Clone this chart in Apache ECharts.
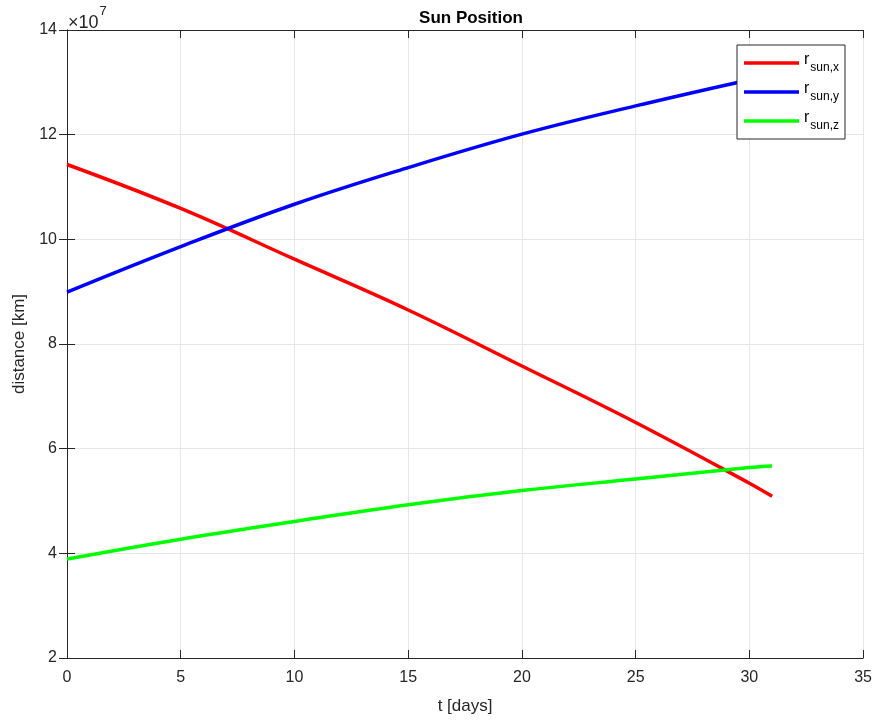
<!DOCTYPE html>
<html>
<head>
<meta charset="utf-8">
<script src="https://cdn.jsdelivr.net/npm/echarts@6/dist/echarts.min.js"></script>
<style>
  html, body { margin: 0; padding: 0; background: #fff; }
  #chart { width: 875px; height: 720px; }
</style>
</head>
<body>
<div id="chart"></div>
<script>
// Sun position components over one month (values in units of 1e7 km)
const days = [0, 5, 10, 15, 20, 25, 30, 31];
const rSunX = [11.43, 10.59, 9.62, 8.65, 7.58, 6.50, 5.34, 5.09];
const rSunY = [8.99, 9.86, 10.67, 11.37, 12.01, 12.55, 13.05, 13.14];
const rSunZ = [3.89, 4.27, 4.61, 4.93, 5.20, 5.42, 5.64, 5.67];

const xTicks = [0, 5, 10, 15, 20, 25, 30, 35];
const yTicks = [2, 4, 6, 8, 10, 12, 14];

const seriesNames = ['r_sun,x', 'r_sun,y', 'r_sun,z'];
const seriesColors = ['#ff0000', '#0000ff', '#00ff00'];
const seriesData = [rSunX, rSunY, rSunZ];

const textColor = '#262626';
const font = 'Liberation Sans, Arial, Helvetica, sans-serif';

const chart = echarts.init(document.getElementById('chart'), null, { renderer: 'canvas' });

const baseAxis = {
  axisLine: { show: true, lineStyle: { color: textColor, width: 1 } },
  axisTick: { show: true, inside: true, length: 8, lineStyle: { color: textColor } },
  splitLine: { show: false },
  axisLabel: { show: false }
};

const option = {
  backgroundColor: '#ffffff',
  animation: false,
  title: {
    text: 'Sun Position',
    left: 466,
    textAlign: 'center',
    top: 5,
    textStyle: { fontFamily: font, fontSize: 17, fontWeight: 'bold', color: '#000' }
  },
  grid: { left: 67, right: 11, top: 30, bottom: 61, containLabel: false, show: false },
  legend: {
    orient: 'vertical',
    left: 737,
    top: 45,
    padding: [7, 6, 7, 7],
    itemGap: 7,
    itemWidth: 55,
    itemHeight: 3.5,
    icon: 'rect',
    backgroundColor: '#ffffff',
    borderColor: '#262626',
    borderWidth: 1,
    borderRadius: 0,
    data: seriesNames,
    formatter: function (name) {
      const sub = name.split('_')[1];
      return '{r|r}{s|' + sub + '}';
    },
    textStyle: {
      fontFamily: font,
      color: '#000',
      rich: {
        r: { fontSize: 16, fontFamily: font, color: '#000', verticalAlign: 'top', height: 16, lineHeight: 16 },
        s: { fontSize: 12, fontFamily: font, color: '#000', verticalAlign: 'bottom', height: 12, lineHeight: 22, padding: [10, 0, 0, 1] }
      }
    }
  },
  xAxis: [
    Object.assign({}, baseAxis, {
      type: 'value',
      min: 0, max: 35, interval: 5,
      position: 'bottom',
      name: 't [days]',
      nameLocation: 'middle',
      nameGap: 40,
      nameTextStyle: { fontFamily: font, fontSize: 17, color: textColor },
      axisLabel: {
        show: true, margin: 12, fontFamily: font, fontSize: 16, color: textColor,
        formatter: v => xTicks.includes(v) ? String(v) : ''
      },
      splitLine: { show: true, lineStyle: { color: '#e6e6e6', width: 1 } }
    }),
    Object.assign({}, baseAxis, {
      type: 'value', min: 0, max: 35, interval: 5, position: 'top'
    })
  ],
  yAxis: [
    Object.assign({}, baseAxis, {
      type: 'value',
      min: 2, max: 14, interval: 2,
      position: 'left',
      name: 'distance [km]',
      nameLocation: 'middle',
      nameGap: 32,
      nameRotate: 90,
      nameTextStyle: { fontFamily: font, fontSize: 17, color: textColor },
      axisLabel: {
        show: true, margin: 10, fontFamily: font, fontSize: 16, color: textColor,
        formatter: v => yTicks.includes(v) ? String(v) : ''
      },
      splitLine: { show: true, lineStyle: { color: '#e6e6e6', width: 1 } }
    }),
    Object.assign({}, baseAxis, {
      type: 'value', min: 2, max: 14, interval: 2, position: 'right'
    })
  ],
  graphic: [
    {
      type: 'text',
      left: 68,
      top: 5,
      style: {
        text: '{a|×10}{b|7}',
        rich: {
          a: { fontFamily: font, fontSize: 18, fill: textColor, verticalAlign: 'bottom', height: 18, lineHeight: 27, padding: [9, 0, 0, 0] },
          b: { fontFamily: font, fontSize: 13, fill: textColor, verticalAlign: 'top', height: 13, lineHeight: 13, padding: [0, 0, 0, 1] }
        }
      }
    }
  ],
  series: seriesNames.map((name, i) => ({
    name: name,
    type: 'line',
    xAxisIndex: 0,
    yAxisIndex: 0,
    data: days.map((d, k) => [d, seriesData[i][k]]),
    smooth: 0.4,
    showSymbol: false,
    symbol: 'none',
    lineStyle: { color: seriesColors[i], width: 3.5 },
    itemStyle: { color: seriesColors[i] },
    z: 3
  }))
};

chart.setOption(option);
</script>
</body>
</html>
